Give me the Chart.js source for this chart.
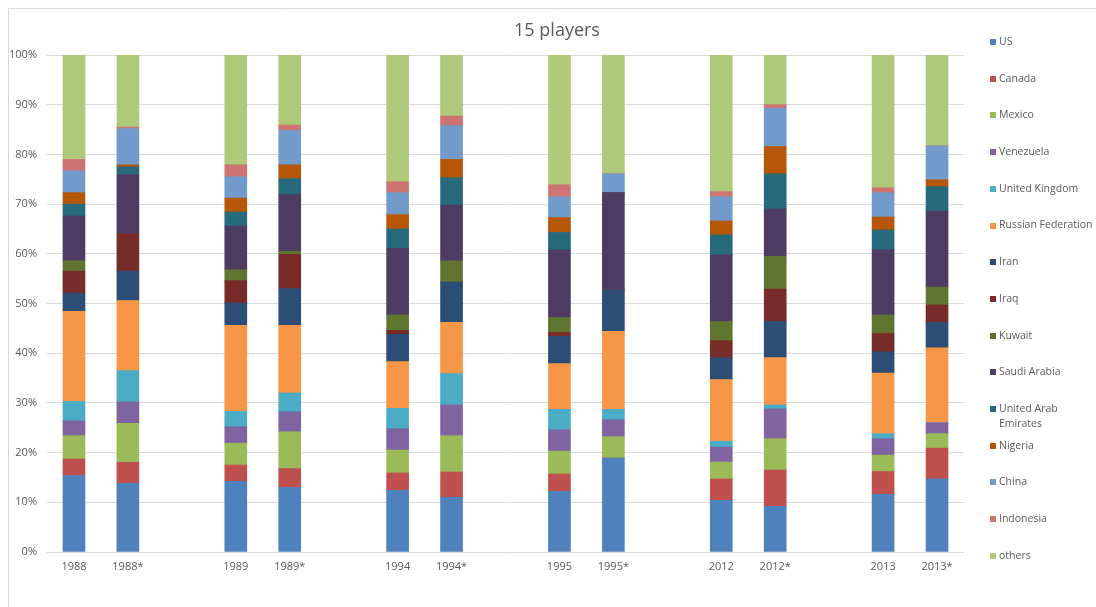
<!DOCTYPE html>
<html>
<head>
<meta charset="utf-8">
<script src="https://cdn.jsdelivr.net/npm/chart.js@4.4.1/dist/chart.umd.min.js"></script>
<style>
  html, body { margin: 0; padding: 0; background: #ffffff; }
  #wrap { position: relative; width: 1096px; height: 607px; }
  canvas { display: block; }
</style>
</head>
<body>
<div id="wrap"><canvas id="c" width="1096" height="607"></canvas></div>
<script>
// Categories (empty strings are the gaps between year pairs)
const categories = ["1988","1988*","","1989","1989*","","1994","1994*","","1995","1995*","","2012","2012*","","2013","2013*"];
// Bars in order: 1988, 1988*, 1989, 1989*, 1994, 1994*, 1995, 1995*, 2012, 2012*, 2013, 2013*
const US          = [15.4, 13.8, 14.2, 13.0, 12.4, 11.0, 12.2, 18.9, 10.4,  9.2, 11.6, 14.7];
const Canada      = [ 3.3, 4.25,  3.3,  3.8,  3.5,  5.1,  3.5,  0.0,  4.3,  7.3,  4.6,  6.2];
const Mexico      = [ 4.7, 7.85,  4.4,  7.4,  4.6,  7.3,  4.6,  4.3,  3.4,  6.3,  3.3,  2.9];
const Venezuela   = [ 3.0,  4.3,  3.3,  4.0,  4.3,  6.2,  4.3,  3.4,  3.0,  6.0,  3.3,  2.2];
const UK          = [ 3.9,  6.3,  3.1,  3.8,  4.1,  6.3,  4.1,  2.1,  1.2,  0.8,  1.0,  0.0];
const Russia      = [18.1, 14.1, 17.3, 13.6,  9.4, 10.3,  9.2, 15.7, 12.4,  9.5, 12.2, 15.1];
const Iran        = [ 3.7,  5.9,  4.5,  7.4,  5.5,  8.1,  5.5,  8.3,  4.4,  7.3,  4.3,  5.1];
const Iraq        = [ 4.4,  7.5,  4.5,  6.9,  0.8,  0.0,  0.8,  0.0,  3.4,  6.5,  3.7,  3.5];
const Kuwait      = [ 2.1,  0.0,  2.2,  0.6,  3.1,  4.3,  3.0,  0.0,  3.9,  6.6,  3.7,  3.6];
const SaudiArabia = [ 9.0, 11.9,  8.8, 11.4, 13.4, 11.2, 13.6, 19.6, 13.4,  9.5, 13.1, 15.3];
const UAE         = [ 2.4,  1.6,  2.8,  3.2,  3.9,  5.5,  3.5,  0.0,  4.0,  7.1,  4.0,  4.9];
const Nigeria     = [ 2.3,  0.4,  2.8,  2.8,  2.9,  3.7,  3.0,  0.0,  2.8,  5.5,  2.6,  1.4];
const China       = [ 4.4,  7.3,  4.3,  6.9,  4.4,  6.8,  4.2,  3.8,  4.9,  7.7,  4.9,  6.8];
const Indonesia   = [ 2.3,  0.3,  2.4,  1.1,  2.2,  1.9,  2.4,  0.0,  1.0,  0.7,  1.0,  0.0];
const others      = [21.0, 14.5, 22.1, 14.1, 25.5, 12.3, 26.1, 23.9, 27.5, 10.0, 26.7, 18.3];
const yTicks = [0,10,20,30,40,50,60,70,80,90,100];

const seriesNames = ["US","Canada","Mexico","Venezuela","United Kingdom","Russian Federation","Iran","Iraq","Kuwait","Saudi Arabia","United Arab Emirates","Nigeria","China","Indonesia","others"];
const seriesValues = [US,Canada,Mexico,Venezuela,UK,Russia,Iran,Iraq,Kuwait,SaudiArabia,UAE,Nigeria,China,Indonesia,others];
const seriesColors = ["#4F81BD","#C0504D","#9BBB59","#8064A2","#4BACC6","#F79646","#2C4D75","#772C2A","#5F7530","#4D3B62","#276A7C","#B65708","#729ACA","#CD7371","#AFC97A"];

// spread 12 bar values over the 17 categories (gaps -> null)
function spread(vals) {
  const out = []; let k = 0;
  categories.forEach(c => { out.push(c === "" ? null : vals[k++]); });
  return out;
}

const FONT = "'Open Sans', 'DejaVu Sans', sans-serif";
const TXT = "#595959";

const decor = {
  id: 'decor',
  beforeDraw(chart) {
    const ctx = chart.ctx;
    ctx.save();
    ctx.strokeStyle = "#d9d9d9";
    ctx.lineWidth = 1;
    ctx.beginPath();
    ctx.moveTo(8.5, 607); ctx.lineTo(8.5, 8.5); ctx.lineTo(1096, 8.5);
    ctx.stroke();
    ctx.restore();
  },
  afterDraw(chart) {
    const ctx = chart.ctx;
    ctx.save();
    // title
    ctx.fillStyle = TXT;
    ctx.font = "18px " + FONT;
    ctx.textAlign = "center";
    ctx.textBaseline = "middle";
    ctx.fillText("15 players", 557, 31);
    // legend
    ctx.font = "10.5px " + FONT;
    ctx.textAlign = "left";
    chart.data.datasets.forEach((ds, i) => {
      const y = 42 + i * 36.7;
      ctx.fillStyle = ds.backgroundColor;
      ctx.fillRect(990, Math.round(y - 3), 6, 6);
      ctx.fillStyle = TXT;
      const words = ds.label.split(" ");
      const lines = [];
      let cur = "";
      words.forEach(w => {
        const t = cur ? cur + " " + w : w;
        if (ctx.measureText(t).width > 100 && cur) { lines.push(cur); cur = w; } else { cur = t; }
      });
      lines.push(cur);
      lines.forEach((ln, j) => ctx.fillText(ln, 999, y + j * 15));
    });
    ctx.restore();
  }
};

new Chart(document.getElementById('c'), {
  type: 'bar',
  data: {
    labels: categories,
    datasets: seriesNames.map((n, i) => ({
      label: n,
      data: spread(seriesValues[i]),
      backgroundColor: seriesColors[i],
      borderWidth: 0,
      barThickness: 22
    }))
  },
  options: {
    responsive: false,
    animation: false,
    layout: { padding: { top: 55, right: 132, bottom: 0, left: 0 } },
    plugins: { legend: { display: false }, title: { display: false }, tooltip: { enabled: false } },
    scales: {
      x: {
        stacked: true,
        grid: { display: false, drawTicks: false, tickLength: 0 },
        border: { display: false },
        ticks: { color: TXT, font: { family: FONT, size: 11 }, padding: 8, maxRotation: 0, autoSkip: false },
        afterFit(s) { s.height = 55; }
      },
      y: {
        stacked: true,
        min: 0, max: 100,
        afterBuildTicks(s) { s.ticks = yTicks.map(v => ({ value: v })); },
        grid: { color: "#d9d9d9", drawTicks: false, tickLength: 0 },
        border: { display: false },
        ticks: { color: TXT, font: { family: FONT, size: 11 }, padding: 10, callback: v => v + "%" },
        afterFit(s) { s.width = 47; }
      }
    }
  },
  plugins: [decor]
});
</script>
</body>
</html>
